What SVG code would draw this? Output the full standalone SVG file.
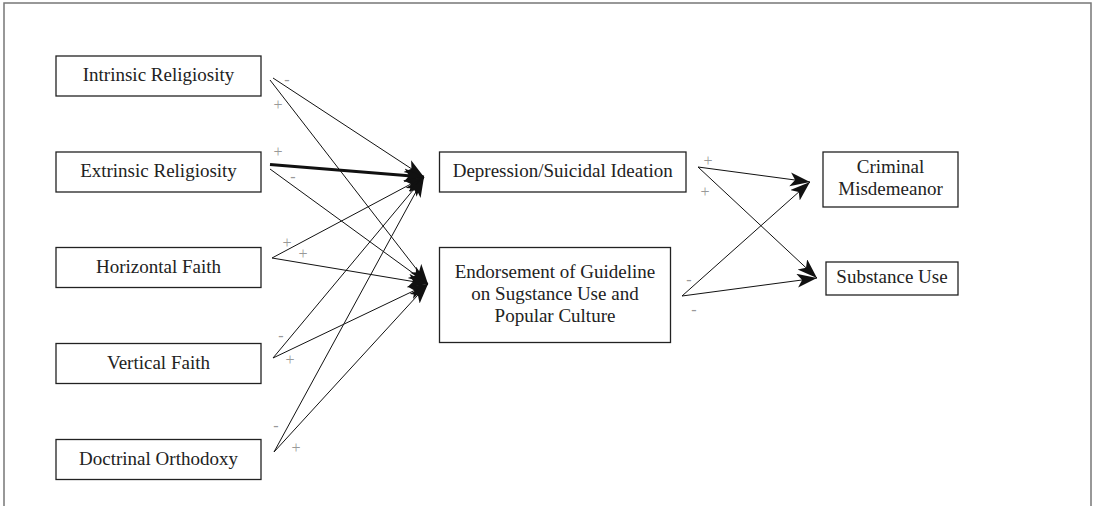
<svg xmlns="http://www.w3.org/2000/svg" width="1096" height="506" viewBox="0 0 1096 506">
<style>
.box{fill:#fff;stroke:#222;stroke-width:1.3}
.t{font-family:"Liberation Serif",serif;font-size:19px;fill:#222;text-anchor:middle}
.c{stroke:#111;stroke-width:1;fill:none;marker-end:url(#ah)}
.thick{stroke-width:3}
.s{font-family:"Liberation Serif",serif;font-size:16px;fill:#999;text-anchor:middle}
</style>
<defs>
<marker id="ah" markerUnits="userSpaceOnUse" markerWidth="22" markerHeight="16" refX="20" refY="7" orient="auto" viewBox="0 0 22 16">
<path d="M0,0 L20,7 L0,14 L5,7 z" fill="#111"/>
</marker>
</defs>
<path d="M4,506 V3 H1091 V506" fill="none" stroke="#777" stroke-width="1.5"/>
<g id="connectors">
<line class="c" x1="273" y1="78" x2="424" y2="177"/>
<line class="c" x1="270" y1="80" x2="428" y2="284"/>
<line class="c thick" x1="270" y1="164.5" x2="424" y2="177"/>
<line class="c" x1="270" y1="169" x2="428" y2="284"/>
<line class="c" x1="272" y1="258" x2="424" y2="177"/>
<line class="c" x1="272" y1="258" x2="428" y2="284"/>
<line class="c" x1="273" y1="358" x2="424" y2="177"/>
<line class="c" x1="273" y1="358" x2="428" y2="284"/>
<line class="c" x1="274" y1="452" x2="424" y2="177"/>
<line class="c" x1="274" y1="452" x2="428" y2="284"/>
<line class="c" x1="698" y1="167" x2="810" y2="182"/>
<line class="c" x1="698" y1="167" x2="817" y2="278"/>
<line class="c" x1="682" y1="296" x2="810" y2="182"/>
<line class="c" x1="682" y1="296" x2="817" y2="278"/>
</g>
<g id="signs">
<text class="s" x="287" y="85">-</text>
<text class="s" x="278" y="110">+</text>
<text class="s" x="278" y="157">+</text>
<text class="s" x="293" y="182">-</text>
<text class="s" x="287" y="248">+</text>
<text class="s" x="303" y="259">+</text>
<text class="s" x="281" y="341">-</text>
<text class="s" x="290" y="365">+</text>
<text class="s" x="276" y="431">-</text>
<text class="s" x="296" y="453">+</text>
<text class="s" x="708" y="166">+</text>
<text class="s" x="705" y="197">+</text>
<text class="s" x="689" y="285">-</text>
<text class="s" x="694" y="315">-</text>
</g>
<g id="intrinsic"><rect class="box" x="56" y="56" width="205" height="40"/><text class="t" x="158.5" y="81">Intrinsic Religiosity</text></g>
<g id="extrinsic"><rect class="box" x="56" y="152" width="205" height="40"/><text class="t" x="158.5" y="177">Extrinsic Religiosity</text></g>
<g id="horizontal"><rect class="box" x="56" y="247.5" width="205" height="40"/><text class="t" x="158.5" y="273">Horizontal Faith</text></g>
<g id="vertical"><rect class="box" x="56" y="343.5" width="205" height="40"/><text class="t" x="158.5" y="369">Vertical Faith</text></g>
<g id="doctrinal"><rect class="box" x="56" y="439.5" width="205" height="40"/><text class="t" x="158.5" y="465">Doctrinal Orthodoxy</text></g>
<g id="depression"><rect class="box" x="439.5" y="152" width="246.5" height="40"/><text class="t" x="562.7" y="177">Depression/Suicidal Ideation</text></g>
<g id="endorsement"><rect class="box" x="439.5" y="247.5" width="231" height="95"/><text class="t" x="555" y="278">Endorsement of Guideline</text><text class="t" x="555" y="300">on Sugstance Use and</text><text class="t" x="555" y="322">Popular Culture</text></g>
<g id="criminal"><rect class="box" x="823" y="152" width="135" height="55"/><text class="t" x="890.5" y="173">Criminal</text><text class="t" x="890.5" y="194.5">Misdemeanor</text></g>
<g id="substance"><rect class="box" x="826" y="262" width="132" height="33"/><text class="t" x="892" y="283">Substance Use</text></g>
</svg>
